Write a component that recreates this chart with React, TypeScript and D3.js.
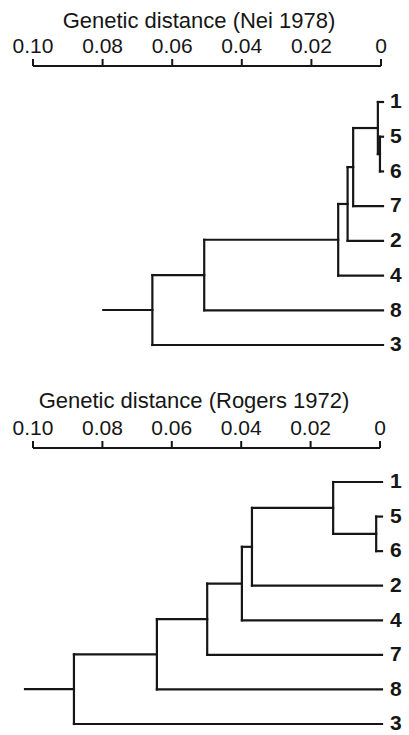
import * as d3 from "d3";

// axis ticks shared by both panels
const tickValues = [0.1, 0.08, 0.06, 0.04, 0.02, 0];
const tickLabels = ["0.10", "0.08", "0.06", "0.04", "0.02", "0"];

// Nei 1978 tree: [node, childA, childB, distance]
const neiLeaves = ["1", "5", "6", "7", "2", "4", "8", "3"];
const neiJoins: [string, string, string, number][] = [
  ["a", "5", "6", 0.0003],
  ["b", "1", "a", 0.0009],
  ["c", "b", "7", 0.008],
  ["d", "c", "2", 0.0096],
  ["e", "d", "4", 0.0123],
  ["f", "e", "8", 0.0508],
  ["root", "f", "3", 0.0657],
];
const neiRootStem = 0.0798;

// Rogers 1972 tree
const rogersLeaves = ["1", "5", "6", "2", "4", "7", "8", "3"];
const rogersJoins: [string, string, string, number][] = [
  ["a", "5", "6", 0.0011],
  ["b", "1", "a", 0.0135],
  ["c", "b", "2", 0.0369],
  ["d", "c", "4", 0.0398],
  ["e", "d", "7", 0.0498],
  ["f", "e", "8", 0.0643],
  ["root", "f", "3", 0.0882],
];
const rogersRootStem = 0.1023;

const FONT = "'Liberation Sans', Arial, Helvetica, sans-serif";
const INK = "#161616";

type TreeNode = { name: string; dist: number; children?: TreeNode[] };

function buildTree(joins: [string, string, string, number][]): TreeNode {
  const lookup = new Map(joins.map((j) => [j[0], j]));
  const make = (id: string): TreeNode => {
    const j = lookup.get(id);
    if (!j) return { name: id, dist: 0 };
    return { name: id, dist: j[3], children: [make(j[1]), make(j[2])] };
  };
  return make("root");
}

function Axis({ title, titleX, titleY, labelY, lineY, x }) {
  return (
    <g>
      <text
        x={titleX}
        y={titleY}
        textAnchor="middle"
        fontSize={22}
        fontFamily={FONT}
        fill={INK}
      >
        {title}
      </text>
      {tickValues.map((v, i) => (
        <g key={i}>
          <text
            x={x(v)}
            y={labelY}
            textAnchor="middle"
            fontSize={21}
            fontFamily={FONT}
            fill={INK}
          >
            {tickLabels[i]}
          </text>
          <line x1={x(v)} x2={x(v)} y1={lineY - 7} y2={lineY} stroke={INK} strokeWidth={2} />
        </g>
      ))}
      <line x1={x(0.1)} x2={x(0)} y1={lineY} y2={lineY} stroke={INK} strokeWidth={2} />
    </g>
  );
}

function Dendrogram({ joins, leaves, stem, top, bottom, x }) {
  const root = d3.hierarchy(buildTree(joins));
  const yLeaf = d3.scalePoint().domain(leaves).range([top, bottom]);

  // leaves get their row, inner nodes sit midway between their children
  const pos = new Map();
  root.eachAfter((n) => {
    if (!n.children) pos.set(n, yLeaf(n.data.name));
    else pos.set(n, (pos.get(n.children[0]) + pos.get(n.children[n.children.length - 1])) / 2);
  });

  const segs: { x1: number; x2: number; y1: number; y2: number }[] = [];
  root.each((n) => {
    if (!n.children) return;
    const nx = x(n.data.dist);
    const ys = n.children.map((c) => pos.get(c));
    segs.push({ x1: nx, x2: nx, y1: d3.min(ys), y2: d3.max(ys) });
    n.children.forEach((c) => {
      segs.push({ x1: nx, x2: x(c.data.dist) + (c.children ? 0 : 2), y1: pos.get(c), y2: pos.get(c) });
    });
  });
  segs.push({ x1: x(stem), x2: x(root.data.dist), y1: pos.get(root), y2: pos.get(root) });

  return (
    <g>
      {segs.map((s, i) => (
        <line
          key={i}
          x1={s.x1}
          x2={s.x2}
          y1={s.y1}
          y2={s.y2}
          stroke={INK}
          strokeWidth={2.2}
          strokeLinecap="square"
        />
      ))}
      {root.leaves().map((l) => (
        <text
          key={l.data.name}
          x={390}
          y={pos.get(l)}
          dy="0.3em"
          fontSize={21}
          fontWeight="bold"
          fontFamily={FONT}
          fill={INK}
        >
          {l.data.name}
        </text>
      ))}
    </g>
  );
}

export default function App() {
  const width = 409;
  const height = 735;
  const xTop = d3.scaleLinear().domain([0.1, 0]).range([33, 381]);
  const xBottom = d3.scaleLinear().domain([0.1, 0]).range([33, 380]);

  return (
    <svg
      width={width}
      height={height}
      style={{ position: "absolute", left: 0, top: 0, background: "#fff" }}
    >
      <rect width={width} height={height} fill="#fff" />
      <Axis
        title="Genetic distance (Nei 1978)"
        titleX={199}
        titleY={28}
        labelY={53}
        lineY={66}
        x={xTop}
      />
      <Dendrogram joins={neiJoins} leaves={neiLeaves} stem={neiRootStem} top={102} bottom={345} x={xTop} />
      <Axis
        title="Genetic distance (Rogers 1972)"
        titleX={194}
        titleY={408}
        labelY={435}
        lineY={448}
        x={xBottom}
      />
      <Dendrogram
        joins={rogersJoins}
        leaves={rogersLeaves}
        stem={rogersRootStem}
        top={482}
        bottom={724}
        x={xBottom}
      />
    </svg>
  );
}
